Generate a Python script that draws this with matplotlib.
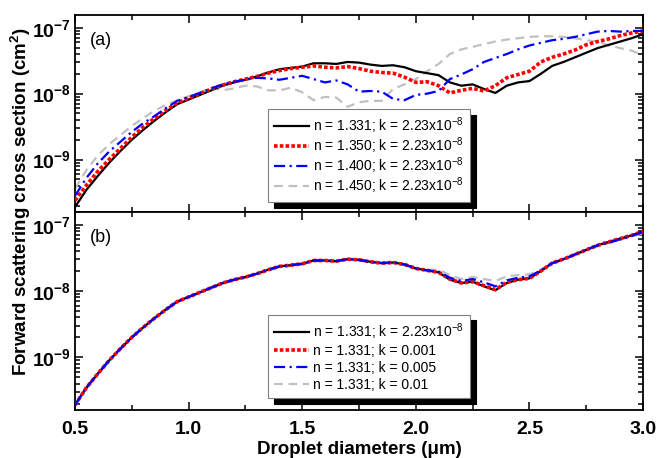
import matplotlib
matplotlib.use('Agg')
import matplotlib.pyplot as plt
import numpy as np
from matplotlib.ticker import FixedLocator, MultipleLocator, LogLocator, NullFormatter, FuncFormatter

plt.rcParams['font.family'] = ['Liberation Sans', 'DejaVu Sans']
plt.rcParams['mathtext.fontset'] = 'custom'
plt.rcParams['mathtext.rm'] = 'Liberation Sans'
plt.rcParams['mathtext.it'] = 'Liberation Sans:italic'
plt.rcParams['mathtext.bf'] = 'Liberation Sans:bold'
plt.rcParams['axes.unicode_minus'] = False

# droplet diameters (um)
diam = [0.50, 0.55, 0.60, 0.65, 0.70, 0.75, 0.80, 0.85, 0.90, 0.95,
        1.00, 1.05, 1.10, 1.15, 1.20, 1.25, 1.30, 1.35, 1.40, 1.45,
        1.50, 1.55, 1.60, 1.65, 1.70, 1.75, 1.80, 1.85, 1.90, 1.95,
        2.00, 2.05, 2.10, 2.15, 2.20, 2.25, 2.30, 2.35, 2.40, 2.45,
        2.50, 2.55, 2.60, 2.65, 2.70, 2.75, 2.80, 2.85, 2.90, 2.95, 3.00]

# log10 of forward scattering cross section (cm^2)
# (a) varying n, k = 2.23e-8
log_n1331 = [-9.72, -9.46, -9.25, -9.05, -8.87, -8.70, -8.55, -8.41, -8.28, -8.16,
             -8.09, -8.02, -7.95, -7.88, -7.83, -7.79, -7.74, -7.68, -7.63, -7.61,
             -7.59, -7.54, -7.54, -7.55, -7.52, -7.53, -7.56, -7.58, -7.57, -7.60,
             -7.66, -7.69, -7.72, -7.83, -7.88, -7.86, -7.93, -7.99, -7.88, -7.83,
             -7.81, -7.70, -7.58, -7.52, -7.45, -7.38, -7.31, -7.26, -7.21, -7.16, -7.10]
log_n1350 = [-9.62, -9.39, -9.18, -9.00, -8.83, -8.66, -8.51, -8.37, -8.25, -8.14,
             -8.07, -8.00, -7.93, -7.87, -7.82, -7.78, -7.74, -7.69, -7.65, -7.62,
             -7.60, -7.58, -7.60, -7.61, -7.59, -7.62, -7.66, -7.68, -7.69, -7.75,
             -7.83, -7.82, -7.88, -7.99, -7.95, -7.92, -7.96, -7.88, -7.76, -7.71,
             -7.66, -7.52, -7.45, -7.40, -7.34, -7.26, -7.21, -7.17, -7.12, -7.08, -7.05]
log_n1400 = [-9.55, -9.28, -9.06, -8.88, -8.73, -8.58, -8.45, -8.34, -8.22, -8.11,
             -8.05, -7.99, -7.92, -7.86, -7.82, -7.79, -7.76, -7.77, -7.79, -7.76,
             -7.73, -7.78, -7.83, -7.80, -7.86, -7.97, -7.96, -7.97, -8.08, -8.10,
             -8.02, -8.00, -7.96, -7.78, -7.71, -7.63, -7.52, -7.46, -7.40, -7.33,
             -7.27, -7.23, -7.19, -7.17, -7.14, -7.10, -7.06, -7.05, -7.06, -7.05, -7.05]
log_n1450 = [-9.44, -9.16, -8.94, -8.77, -8.63, -8.49, -8.37, -8.26, -8.17, -8.10,
             -8.04, -7.98, -7.91, -7.95, -7.92, -7.88, -7.89, -7.95, -7.95, -7.91,
             -7.98, -8.10, -8.05, -8.06, -8.20, -8.13, -8.11, -8.11, -7.93, -7.86,
             -7.78, -7.66, -7.55, -7.40, -7.33, -7.29, -7.25, -7.21, -7.18, -7.16,
             -7.14, -7.13, -7.13, -7.14, -7.16, -7.19, -7.21, -7.27, -7.31, -7.35, -7.42]
# (b) n = 1.331, varying k
log_k0001 = [-9.72, -9.46, -9.25, -9.05, -8.87, -8.70, -8.55, -8.41, -8.28, -8.16,
             -8.09, -8.02, -7.95, -7.88, -7.83, -7.79, -7.74, -7.68, -7.63, -7.61,
             -7.59, -7.54, -7.54, -7.55, -7.52, -7.53, -7.56, -7.58, -7.57, -7.60,
             -7.66, -7.69, -7.72, -7.82, -7.88, -7.86, -7.92, -7.98, -7.87, -7.83,
             -7.81, -7.70, -7.58, -7.52, -7.45, -7.38, -7.31, -7.26, -7.21, -7.16, -7.10]
log_k0005 = [-9.72, -9.46, -9.25, -9.05, -8.87, -8.70, -8.55, -8.41, -8.28, -8.16,
             -8.09, -8.02, -7.95, -7.88, -7.83, -7.79, -7.74, -7.68, -7.63, -7.61,
             -7.59, -7.54, -7.54, -7.55, -7.52, -7.53, -7.56, -7.58, -7.57, -7.60,
             -7.66, -7.69, -7.71, -7.80, -7.85, -7.82, -7.87, -7.93, -7.84, -7.80,
             -7.78, -7.69, -7.58, -7.52, -7.45, -7.38, -7.31, -7.27, -7.22, -7.17, -7.11]
log_k001 = [-9.73, -9.47, -9.26, -9.06, -8.88, -8.71, -8.56, -8.42, -8.29, -8.17,
            -8.10, -8.03, -7.96, -7.89, -7.84, -7.80, -7.75, -7.69, -7.64, -7.62,
            -7.60, -7.55, -7.55, -7.56, -7.53, -7.54, -7.57, -7.59, -7.58, -7.61,
            -7.66, -7.68, -7.68, -7.76, -7.82, -7.79, -7.82, -7.85, -7.78, -7.76,
            -7.75, -7.68, -7.59, -7.53, -7.46, -7.39, -7.33, -7.28, -7.23, -7.18, -7.13]

labels_a = ['n = 1.331; k = 2.23x10$^{-8}$', 'n = 1.350; k = 2.23x10$^{-8}$',
            'n = 1.400; k = 2.23x10$^{-8}$', 'n = 1.450; k = 2.23x10$^{-8}$']
labels_b = ['n = 1.331; k = 2.23x10$^{-8}$', 'n = 1.331; k = 0.001',
            'n = 1.331; k = 0.005', 'n = 1.331; k = 0.01']

styles = [dict(color='black', ls='-', lw=1.6, zorder=3),
          dict(color='#ff0000', ls=(0, (1, 0.6)), lw=2.6, zorder=4),
          dict(color='#0000ff', ls=(0, (5, 2, 1, 2)), lw=1.6, zorder=5),
          dict(color='#c0c0c0', ls=(0, (4, 2.5)), lw=1.6, zorder=2)]

fig = plt.figure(figsize=(6.59, 4.58), dpi=100)
ax1 = fig.add_axes([0.1138, 0.537, 0.862, 0.430])
ax2 = fig.add_axes([0.1138, 0.1048, 0.862, 0.4322], sharex=ax1)

d = np.array(diam)
series_a = [log_n1331, log_n1350, log_n1400, log_n1450]
series_b = [log_n1331, log_k0001, log_k0005, log_k001]

def ylab(v, pos):
    e = int(round(np.log10(v)))
    return r'$\mathbf{10^{%d}}$' % e

for ax, series, labels, tag, ly, sp_ in [(ax1, series_a, labels_a, '(a)', 0.05, -0.04),
                                         (ax2, series_b, labels_b, '(b)', 0.06, 0.2)]:
    for s, lab, st in zip(series, labels, styles):
        ax.plot(d, 10 ** np.array(s), label=lab, **st)
    ax.set_yscale('log')
    ax.set_xlim(0.5, 3.0)
    ax.set_ylim(1.6e-10, 1.55e-7)
    ax.yaxis.set_major_locator(FixedLocator([1e-9, 1e-8, 1e-7]))
    ax.yaxis.set_minor_locator(LogLocator(base=10, subs=np.arange(2, 10)))
    ax.yaxis.set_minor_formatter(NullFormatter())
    ax.yaxis.set_major_formatter(FuncFormatter(ylab))
    ax.xaxis.set_major_locator(MultipleLocator(0.5))
    ax.xaxis.set_minor_locator(MultipleLocator(0.25))
    ax.tick_params(which='both', direction='in', top=True, right=True, width=1.1)
    ax.tick_params(which='major', length=6, labelsize=14)
    ax.tick_params(axis='x', which='major', pad=8)
    ax.tick_params(axis='y', which='major', pad=3)
    ax.tick_params(which='minor', length=3.5)
    for sp in ax.spines.values():
        sp.set_linewidth(1.3)
    ax.text(0.027, 0.85, tag, transform=ax.transAxes, fontsize=13)
    leg = ax.legend(loc='lower left', bbox_to_anchor=(0.34, ly), fontsize=10,
                    fancybox=False, edgecolor='#808080', framealpha=1,
                    shadow={'ox': 4, 'oy': -4, 'color': 'black', 'alpha': 1},
                    handlelength=2.5, handletextpad=0.3, labelspacing=sp_,
                    borderpad=0.45, borderaxespad=0)
    leg.get_frame().set_linewidth(0.8)

plt.setp(ax1.get_xticklabels(), visible=False)
ax2.xaxis.set_major_formatter(FuncFormatter(lambda v, p: '%.1f' % v))
for lbl in ax2.get_xticklabels():
    lbl.set_fontweight('bold')

ax2.set_xlabel('Droplet diameters (μm)', fontsize=13.5, fontweight='bold', labelpad=2)
fig.text(0.032, 0.56, 'Forward scattering cross section (cm$^{\\mathbf{2}}$)', rotation=90,
         va='center', ha='center', fontsize=13.5, fontweight='bold')

fig.savefig('out.png', dpi=100)
